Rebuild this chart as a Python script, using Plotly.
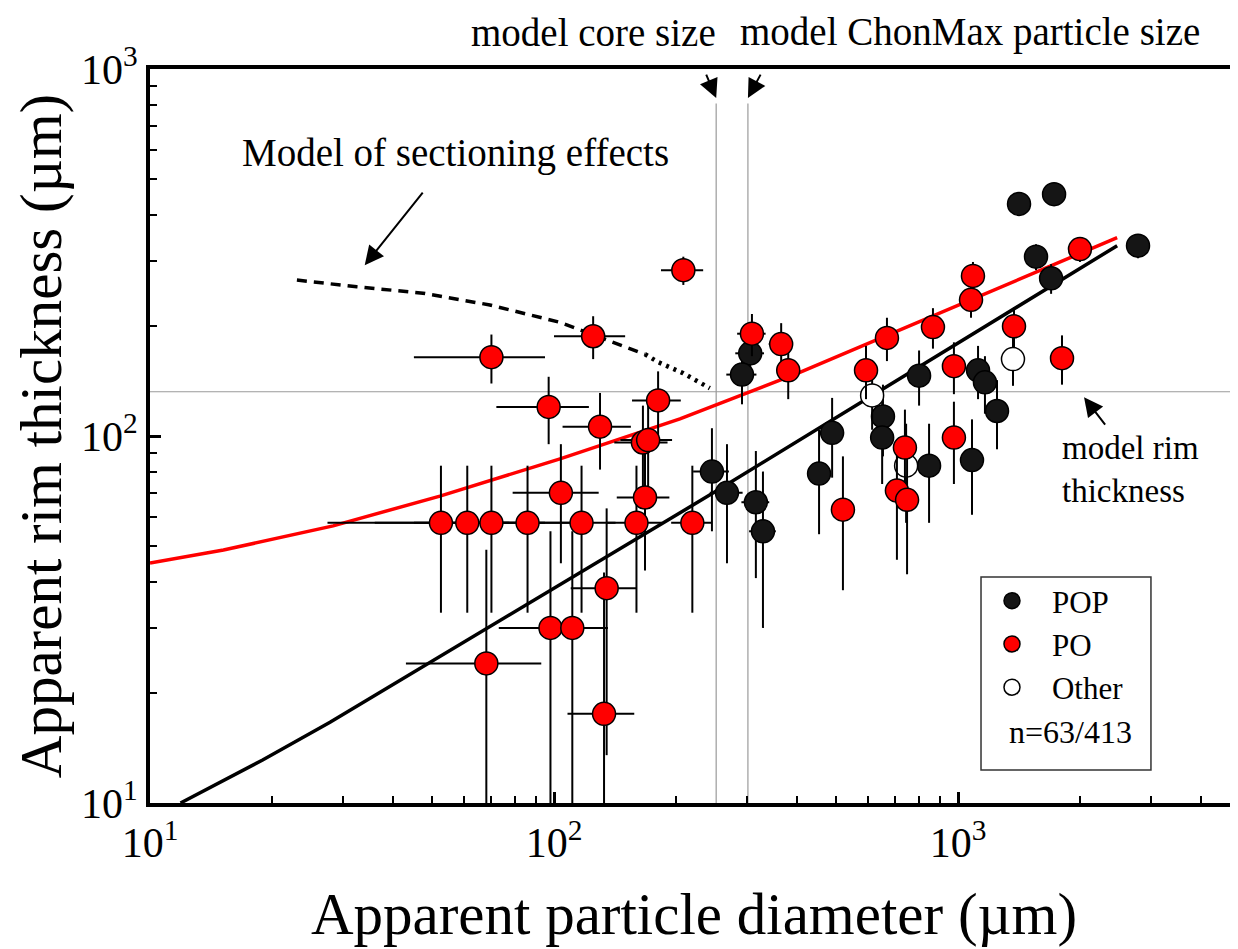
import plotly.graph_objects as go
import math

FONT = "Liberation Serif, Times New Roman, serif"

# ---------------- data ----------------
# POP particles (black)
pop_x = [1416, 1729, 2790, 1560, 1700, 801, 1121, 1166, 1249, 652, 649, 488,
         848, 1083, 453, 306, 292, 246, 268, 316, 329]
pop_y = [429, 456, 330, 308, 269, 146, 151, 140, 117, 113, 99, 102,
         83, 86, 79, 168, 147, 80, 70, 66, 55]

# PO particles (red)
po_x = [52.5, 61, 70, 86, 117, 160, 220,
        70, 97, 104, 168, 166, 171, 181, 130, 125, 209, 98, 111, 68, 133, 135,
        309, 365, 380, 592, 667, 867, 977, 739, 977, 519, 706, 748, 2004, 1089,
        1077, 1376, 1809]
po_y = [58, 58, 58, 58, 58, 58, 58,
        164, 120, 70, 68, 96, 97.5, 125, 106, 187, 283, 30, 30, 24, 17.5, 38.5,
        190, 178, 151, 151, 185, 198, 155, 93, 99, 63, 71, 67, 323, 273,
        235, 199, 163]

# Other particles (white)
other_x = [613, 1368, 744]
other_y = [129, 162, 83]

# measurement uncertainty (um), both axes
ERR = 25

# model curve (red line)
model_x = [10.0, 15.2, 28.4, 52.2, 103.5, 205, 406, 572, 1012, 2477]
model_y = [45.1, 48.9, 56.9, 68.6, 86.6, 111.3, 149, 175, 228, 347]

# fit line (black)
fit_x = [11.9, 19.0, 27.9, 130, 248, 572, 2477]
fit_y = [10.0, 13.1, 16.6, 45.9, 70, 123, 330]

# model of sectioning effects (dashed, then dotted)
sect_dash_x = [23.1, 32.5, 47.4, 69.4, 103.5, 145.7, 168]
sect_dash_y = [266, 255, 245, 227.5, 204, 177, 167]
sect_dot_x = [168, 181, 208.6, 243]
sect_dot_y = [167, 159, 148.4, 135]

# model reference values
CORE_SIZE = 252
CHONMAX_SIZE = 302
RIM_THICKNESS = 132

# axis ticks
x_tickvals = [10, 100, 1000]
x_ticktext = ["10<sup>1</sup>", "10<sup>2</sup>", "10<sup>3</sup>"]
y_tickvals = [10, 100, 1000]
y_ticktext = ["10<sup>1</sup>", "10<sup>2</sup>", "10<sup>3</sup>"]
minor_vals = [m * 10 ** k for k in range(1, 4) for m in range(2, 10)]

# ---------------- figure ----------------
fig = go.Figure()

fig.add_trace(go.Scatter(x=model_x, y=model_y, mode="lines",
                         line=dict(color="#ff0000", width=3.5),
                         showlegend=False, hoverinfo="skip"))
fig.add_trace(go.Scatter(x=fit_x, y=fit_y, mode="lines",
                         line=dict(color="black", width=3.5),
                         showlegend=False, hoverinfo="skip"))
fig.add_trace(go.Scatter(x=sect_dash_x, y=sect_dash_y, mode="lines",
                         line=dict(color="black", width=3.5, dash="10px,7px"),
                         showlegend=False, hoverinfo="skip"))
fig.add_trace(go.Scatter(x=sect_dot_x, y=sect_dot_y, mode="lines",
                         line=dict(color="black", width=4.5, dash="3px,5px"),
                         showlegend=False, hoverinfo="skip"))


def points(name, x, y, fill, rank):
    return go.Scatter(
        x=x, y=y, mode="markers", name=name, legendrank=rank,
        marker=dict(size=23, color=fill, line=dict(color="black", width=1.5)),
        error_x=dict(type="constant", value=ERR, color="black", thickness=2, width=0),
        error_y=dict(type="constant", value=ERR, color="black", thickness=2, width=0),
    )


fig.add_trace(points("POP", pop_x, pop_y, "#151515", 1))
fig.add_trace(points("Other", other_x, other_y, "white", 3))
fig.add_trace(points("PO", po_x, po_y, "#ff0000", 2))

# reference lines
fig.add_shape(type="line", xref="x", yref="y", x0=CORE_SIZE, x1=CORE_SIZE,
              y0=10, y1=805, line=dict(color="#9a9a9a", width=1.2), layer="below")
fig.add_shape(type="line", xref="x", yref="y", x0=CHONMAX_SIZE, x1=CHONMAX_SIZE,
              y0=10, y1=805, line=dict(color="#9a9a9a", width=1.2), layer="below")
fig.add_shape(type="line", xref="paper", yref="y", x0=0, x1=1,
              y0=RIM_THICKNESS, y1=RIM_THICKNESS,
              line=dict(color="#9a9a9a", width=1.2), layer="below")

# legend box
fig.add_shape(type="rect", xref="paper", yref="paper",
              x0=0.7638, x1=0.920, y0=0.045, y1=0.308,
              line=dict(color="#333333", width=1.5), fillcolor="rgba(0,0,0,0)")

ann_font = dict(family=FONT, size=39, color="black")
annotations = [
    dict(text="model core size", xref="paper", yref="paper", x=0.4072, y=1.0504,
         showarrow=False, font=ann_font, xanchor="center", yanchor="middle"),
    dict(text="model ChonMax particle size", xref="paper", yref="paper", x=0.7537, y=1.0504,
         showarrow=False, font=ann_font, xanchor="center", yanchor="middle"),
    dict(text="Model of sectioning effects", xref="paper", yref="paper", x=0.2812, y=0.8856,
         showarrow=False, font=ann_font, xanchor="center", yanchor="middle"),
    dict(text="model rim<br>thickness", xref="paper", yref="paper", x=0.8364, y=0.4537,
         showarrow=False, font=dict(family=FONT, size=33, color="black"),
         xanchor="left", yanchor="middle", align="left"),
    dict(text="n=63/413", xref="paper", yref="paper", x=0.8456, y=0.0967,
         showarrow=False, font=dict(family=FONT, size=32, color="black"),
         xanchor="center", yanchor="middle"),
]

arrow_common = dict(text=" ", showarrow=True, arrowhead=2, arrowsize=1.9, arrowwidth=2,
                    arrowcolor="black", font=dict(size=2), xref="x", yref="y")
annotations += [
    dict(x=math.log10(CORE_SIZE), y=math.log10(833), ax=-11, ay=-26, **arrow_common),
    dict(x=math.log10(CHONMAX_SIZE), y=math.log10(833), ax=14, ay=-26, **arrow_common),
    dict(x=math.log10(34.0), y=math.log10(292), ax=60, ay=-75, **arrow_common),
    dict(x=math.log10(2051), y=math.log10(127.6), ax=23, ay=30, **arrow_common),
]

axis_common = dict(
    type="log", showline=True, linecolor="black", linewidth=4,
    ticks="inside", ticklen=11, tickwidth=2.5, tickcolor="black",
    showgrid=False, zeroline=False,
    tickfont=dict(family=FONT, size=42, color="black"),
    tickmode="array",
    minor=dict(tickmode="array", tickvals=minor_vals, ticks="inside", ticklen=7,
               tickwidth=2, tickcolor="black", showgrid=False),
)

# the page adds an 8 px body margin, so the figure is 8 px smaller and shifted
fig.update_layout(
    width=1230, height=941,
    margin=dict(l=142, r=0, t=61, b=146, pad=0),
    paper_bgcolor="white", plot_bgcolor="white",
    font=dict(family=FONT, color="black"),
    xaxis=dict(range=[1, 1 + 1088 / 404], tickvals=x_tickvals, ticktext=x_ticktext,
               mirror=True,
               title=dict(text="Apparent particle diameter (\u00b5m)",
                          font=dict(family=FONT, size=59, color="black"), standoff=28),
               **axis_common),
    yaxis=dict(range=[1, 3], tickvals=y_tickvals, ticktext=y_ticktext,
               title=dict(text="Apparent rim thickness (\u00b5m)",
                          font=dict(family=FONT, size=59, color="black"), standoff=15),
               **axis_common),
    legend=dict(x=0.7555, y=0.312, xanchor="left", yanchor="top",
                font=dict(family=FONT, size=31, color="black"),
                bgcolor="rgba(0,0,0,0)", borderwidth=0, itemwidth=70,
                tracegroupgap=0),
    annotations=annotations,
)

fig.write_html("out.html")
